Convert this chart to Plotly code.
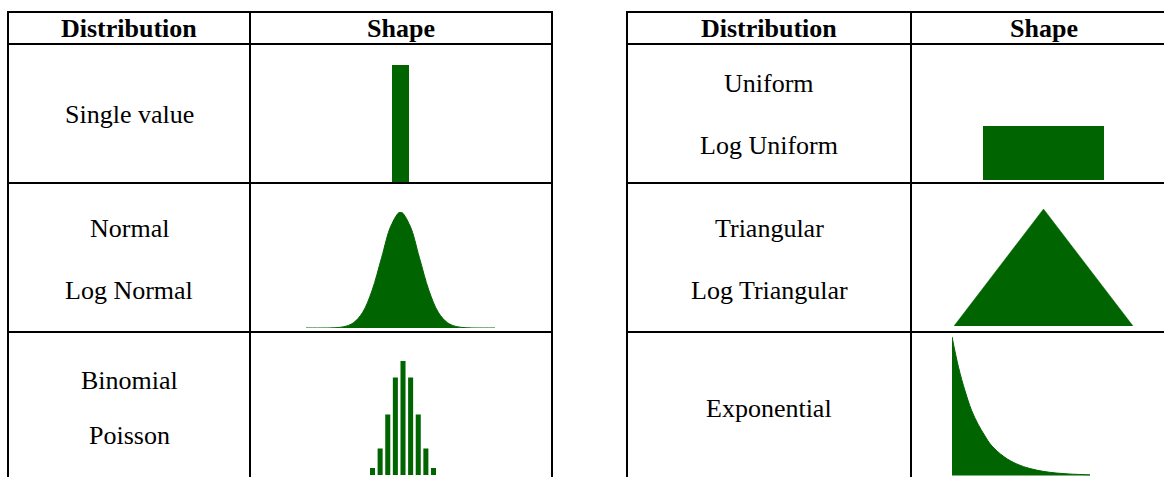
import plotly.graph_objects as go

W, H = 1164, 477
GREEN = "#006400"
FONT = "Liberation Serif"

# ---------------- data ----------------
headers = ["Distribution", "Shape"]
left_labels = [["Single value"], ["Normal", "Log Normal"], ["Binomial", "Poisson"]]
right_labels = [["Uniform", "Log Uniform"], ["Triangular", "Log Triangular"], ["Exponential"]]

single_x = [1]
single_y = [1.0]

normal_x = [-5, -4, -3.5, -3, -2.5, -2, -1.5, -1, -0.5, 0, 0.5, 1, 1.5, 2, 2.5, 3, 3.5, 4, 5]
normal_y = [0.0, 0.0001, 0.0009, 0.0044, 0.0175, 0.054, 0.13, 0.242, 0.352, 0.399,
            0.352, 0.242, 0.13, 0.054, 0.0175, 0.0044, 0.0009, 0.0001, 0.0]

binom_k = [1, 2, 3, 4, 5, 6, 7, 8, 9]
binom_p = [0.015, 0.057, 0.13, 0.21, 0.246, 0.21, 0.13, 0.057, 0.015]

uniform_x = [0.5]
uniform_y = [1.0]

tri_x = [0, 0.5, 1]
tri_y = [0, 1, 0]

exp_x = [0, 0.25, 0.5, 0.75, 1, 1.25, 1.5, 2, 2.5, 3, 3.5, 4, 4.5, 5, 5.3]
exp_y = [1.0, 0.78, 0.61, 0.47, 0.37, 0.29, 0.22, 0.135, 0.082, 0.05, 0.03, 0.018, 0.011, 0.007, 0.005]


# ---------------- helpers ----------------
def px_x(x):
    return x / W


def px_y(y):
    return 1 - y / H


fig = go.Figure()

# subplot boxes in pixels: (x0, x1, ytop, ybottom), axis ranges
panels = [
    dict(box=(392, 409, 65, 183), xr=[0.5, 1.5], yr=[0, 1]),            # single
    dict(box=(306, 495, 212, 328), xr=[-5, 5], yr=[0, 0.399]),          # normal
    dict(box=(368.7, 437.3, 360.7, 477), xr=[0.5, 9.5], yr=[-0.0042, 0.246]),  # binomial
    dict(box=(983, 1104, 126, 180), xr=[0, 1], yr=[0, 1]),              # uniform
    dict(box=(954, 1133, 209, 326), xr=[0, 1], yr=[0, 1]),              # triangle
    dict(box=(952, 1090, 336.7, 477), xr=[0, 5.3], yr=[-0.0106, 1]),    # exponential
]

layout_axes = {}
for i, p in enumerate(panels, start=1):
    x0, x1, yt, yb = p["box"]
    xa = "xaxis" if i == 1 else f"xaxis{i}"
    ya = "yaxis" if i == 1 else f"yaxis{i}"
    layout_axes[xa] = dict(domain=[px_x(x0), px_x(x1)], range=p["xr"], visible=False,
                           fixedrange=True, anchor="y" if i == 1 else f"y{i}")
    layout_axes[ya] = dict(domain=[max(0, px_y(yb)), min(1, px_y(yt))], range=p["yr"],
                           visible=False, fixedrange=True, anchor="x" if i == 1 else f"x{i}")

def ax(i):
    return ("x", "y") if i == 1 else (f"x{i}", f"y{i}")

# single value
xa, ya = ax(1)
fig.add_trace(go.Bar(x=single_x, y=single_y, width=[1] * len(single_x), marker_color=GREEN,
                     marker_line_width=0, xaxis=xa, yaxis=ya, hoverinfo="skip"))
# normal
xa, ya = ax(2)
fig.add_trace(go.Scatter(x=normal_x, y=normal_y, mode="lines", line=dict(color=GREEN, width=1, shape="spline"),
                         fill="tozeroy", fillcolor=GREEN, xaxis=xa, yaxis=ya, hoverinfo="skip"))
# binomial
xa, ya = ax(3)
fig.add_trace(go.Bar(x=binom_k, y=binom_p, width=[0.66] * len(binom_k), marker_color=GREEN,
                     marker_line_width=0, xaxis=xa, yaxis=ya, hoverinfo="skip"))
# uniform
xa, ya = ax(4)
fig.add_trace(go.Bar(x=uniform_x, y=uniform_y, width=[1] * len(uniform_x), marker_color=GREEN,
                     marker_line_width=0, xaxis=xa, yaxis=ya, hoverinfo="skip"))
# triangle
xa, ya = ax(5)
fig.add_trace(go.Scatter(x=tri_x, y=tri_y, mode="lines", line=dict(color=GREEN, width=0.5),
                         fill="toself", fillcolor=GREEN, xaxis=xa, yaxis=ya, hoverinfo="skip"))
# exponential
xa, ya = ax(6)
fig.add_trace(go.Scatter(x=exp_x, y=exp_y, mode="lines", line=dict(color=GREEN, width=1, shape="spline"),
                         fill="tozeroy", fillcolor=GREEN, xaxis=xa, yaxis=ya, hoverinfo="skip"))

# ---------------- table grid ----------------
shapes = []
LW = 2
def hline(x0, x1, y):
    shapes.append(dict(type="line", xref="paper", yref="paper", x0=px_x(x0), x1=px_x(x1),
                       y0=px_y(y), y1=px_y(y), line=dict(color="black", width=LW)))
def vline(x, y0, y1):
    shapes.append(dict(type="line", xref="paper", yref="paper", x0=px_x(x), x1=px_x(x),
                       y0=px_y(y0), y1=px_y(y1), line=dict(color="black", width=LW)))

row_lines = [12, 44, 183, 332]
for y in row_lines:
    hline(7, 553, y)
    hline(626, 1166, y)
for x in [8, 250, 552]:
    vline(x, 11, 478)
for x in [627, 911]:
    vline(x, 11, 478)

# ---------------- text ----------------
annotations = []
def text(x, y, s, bold=False):
    annotations.append(dict(xref="paper", yref="paper", x=px_x(x), y=px_y(y), text=f"<b>{s}</b>" if bold else s,
                            showarrow=False, xanchor="center", yanchor="middle",
                            font=dict(family=FONT, size=26, color="black")))

col_centers_left = [129, 401]
col_centers_right = [769, 1044]
for c, h in zip(col_centers_left, headers):
    text(c, 28, h, bold=True)
for c, h in zip(col_centers_right, headers):
    text(c, 28, h, bold=True)

left_y = [[115], [228, 290], [380, 435]]
right_y = [[83, 145], [228, 290], [408]]
for labels, ys in zip(left_labels, left_y):
    for s, y in zip(labels, ys):
        text(129, y, s)
for labels, ys in zip(right_labels, right_y):
    for s, y in zip(labels, ys):
        text(769, y, s)

fig.update_layout(
    width=W, height=H, margin=dict(l=0, r=0, t=0, b=0),
    paper_bgcolor="white", plot_bgcolor="rgba(0,0,0,0)",
    showlegend=False, shapes=shapes, annotations=annotations,
    font=dict(family=FONT),
    **layout_axes,
)

fig.write_html("out.html", config={"displayModeBar": False},
               post_script="document.body.style.margin='0';document.body.style.overflow='hidden';")
